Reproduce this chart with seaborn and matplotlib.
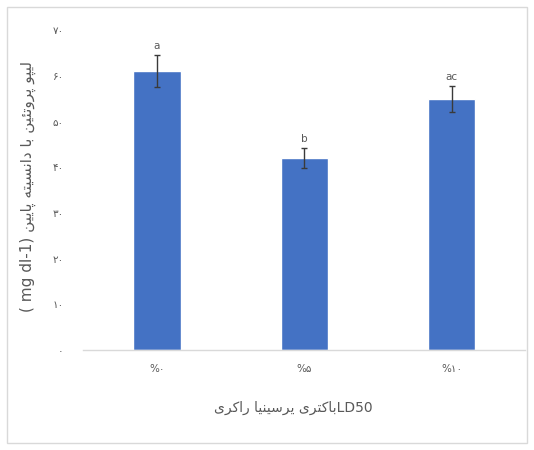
import matplotlib
matplotlib.use("Agg")
import matplotlib.pyplot as plt
import seaborn as sns
import pandas as pd
from matplotlib.patches import Rectangle

# ---- data ----
categories = ["%۰", "%۵", "%۱۰"]
values = [61.0, 42.0, 54.9]
errors = [3.5, 2.2, 2.8]
letters = ["a", "b", "ac"]
yticks = [0, 10, 20, 30, 40, 50, 60, 70]
ytick_labels = ["۰", "۱۰", "۲۰", "۳۰", "۴۰", "۵۰", "۶۰", "۷۰"]
xlabel_fa = "باکتری یرسینیا راکری"
xlabel_latin = "LD50"
ylabel_fa = "لیپو پروتئین با دانسیته پایین"
ylabel_latin = "( mg dl-1)"

# ---- minimal Persian shaping (presentation forms, visual order) ----
DUAL = {
    'ب': ('\uFE8F', '\uFE90', '\uFE91', '\uFE92'),
    'پ': ('\uFB56', '\uFB57', '\uFB58', '\uFB59'),
    'ت': ('\uFE95', '\uFE96', '\uFE97', '\uFE98'),
    'ئ': ('\uFE89', '\uFE8A', '\uFE8B', '\uFE8C'),
    'س': ('\uFEB1', '\uFEB2', '\uFEB3', '\uFEB4'),
    'ک': ('\uFB8E', '\uFB8F', '\uFB90', '\uFB91'),
    'ل': ('\uFEDD', '\uFEDE', '\uFEDF', '\uFEE0'),
    'ن': ('\uFEE5', '\uFEE6', '\uFEE7', '\uFEE8'),
    'ه': ('\uFEE9', '\uFEEA', '\uFEEB', '\uFEEC'),
    'ی': ('\uFBFC', '\uFBFD', '\uFBFE', '\uFBFF'),
}
RIGHT = {
    'ا': ('\uFE8D', '\uFE8E'),
    'د': ('\uFEA9', '\uFEAA'),
    'ر': ('\uFEAD', '\uFEAE'),
    'و': ('\uFEED', '\uFEEE'),
}


def shape(s):
    out = []
    for i, c in enumerate(s):
        prev = s[i - 1] if i > 0 else None
        nxt = s[i + 1] if i + 1 < len(s) else None
        jp = prev in DUAL
        if c in DUAL:
            jn = (nxt in DUAL) or (nxt in RIGHT)
            idx = {(False, False): 0, (True, False): 1,
                   (False, True): 2, (True, True): 3}[(jp, jn)]
            out.append(DUAL[c][idx])
        elif c in RIGHT:
            out.append(RIGHT[c][1 if jp else 0])
        else:
            out.append(c)
    return ''.join(reversed(out))


sns.set_theme(style="white")
plt.rcParams['font.family'] = ['DejaVu Sans']

fig = plt.figure(figsize=(5.34, 4.5), dpi=100)
ax = fig.add_axes([0.156, 0.222, 0.828, 0.711])

df = pd.DataFrame({"cat": categories, "val": values})
sns.barplot(data=df, x="cat", y="val", color="#4472C4", saturation=1,
            width=0.32, ax=ax, errorbar=None)
ax.errorbar(range(len(values)), values, yerr=errors, fmt="none",
            ecolor="#3A3A3A", elinewidth=1.0, capsize=2.5, capthick=1.0)
for i, (v, e, t) in enumerate(zip(values, errors, letters)):
    ax.text(i, v + e + 1.0, t, ha="center", va="bottom",
            fontsize=7.5, color="#595959")

ax.set_ylim(0, 70)
ax.set_xlim(-0.5, 2.5)
ax.set_yticks(yticks)
ax.set_yticklabels(ytick_labels)
ax.tick_params(axis="both", length=0, labelsize=7.5, colors="#595959")
ax.tick_params(axis="y", pad=14)
ax.tick_params(axis="x", pad=10)
for s in ["top", "right", "left"]:
    ax.spines[s].set_visible(False)
ax.spines["bottom"].set_color("#D9D9D9")
ax.spines["bottom"].set_linewidth(1.0)

ax.set_xlabel(shape(xlabel_fa) + xlabel_latin, fontsize=10,
              color="#595959", labelpad=14)
ax.xaxis.set_label_coords(0.475, -0.16)
ax.set_ylabel(ylabel_latin + " " + shape(ylabel_fa), fontsize=11,
              color="#595959", labelpad=16)
ax.yaxis.set_label_coords(-0.106, 0.51)

# outer chart border
fig.patches.append(Rectangle((7 / 534, 7 / 450), 520 / 534, 436 / 450,
                             transform=fig.transFigure, fill=False,
                             edgecolor="#D9D9D9", linewidth=1.0))

fig.savefig("out.png", dpi=100)
